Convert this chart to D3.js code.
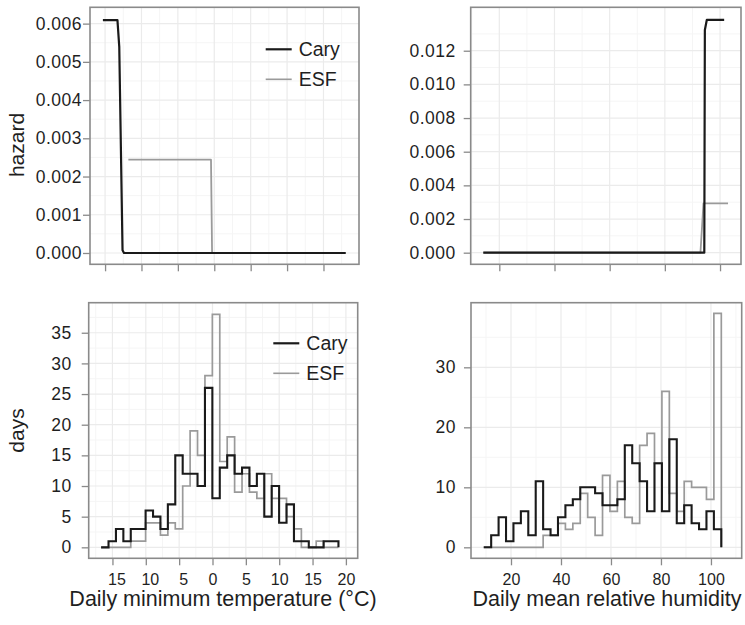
<!DOCTYPE html>
<html>
<head>
<meta charset="utf-8">
<script src="https://cdn.jsdelivr.net/npm/d3@7"></script>
<style>
  body { margin: 0; background: #fff; }
  text { font-family: "Liberation Sans", Arial, sans-serif; fill: #1f1f1f; }
</style>
</head>
<body>
<svg id="chart" width="745" height="625"></svg>
<script>
// tick values and labels (minus signs are missing in the original labels)
const tempTicks = [-15, -10, -5, 0, 5, 10, 15, 20]
const tempTickLabels = ['15', '10', '5', '0', '5', '10', '15', '20']
const rhTicks = [20, 40, 60, 80, 100]
const rhTickLabels = ['20', '40', '60', '80', '100']
const hazTempTicks = [0, 0.001, 0.002, 0.003, 0.004, 0.005, 0.006]
const hazTempLabels = ['0.000', '0.001', '0.002', '0.003', '0.004', '0.005', '0.006']
const hazRhTicks = [0, 0.002, 0.004, 0.006, 0.008, 0.010, 0.012]
const hazRhLabels = ['0.000', '0.002', '0.004', '0.006', '0.008', '0.010', '0.012']
const daysTempTicks = [0, 5, 10, 15, 20, 25, 30, 35]
const daysRhTicks = [0, 10, 20, 30]

// hazard curves, min temperature
const caryHazTempX = [-15.3, -13.3, -13.05, -12.6, -12.4, 18.05]
const caryHazTempY = [0.00609, 0.00609, 0.00539, 0.00007, 0, 0]
const esfHazTempX = [-11.8, -0.45, -0.3, 18.05]
const esfHazTempY = [0.00244, 0.00244, 0, 0]

// hazard curves, relative humidity
const caryHazRhX = [14.2, 94.3, 94.5, 95.2, 101.5]
const caryHazRhY = [0, 0, 0.01323, 0.01383, 0.01383]
const esfHazRhX = [14.2, 92.9, 94.0, 102.9]
const esfHazRhY = [0, 0, 0.00293, 0.00293]

// histograms (days per bin)
const tempBinStart = -16.7
const tempBinWidth = 1.112
const caryTempDays = [0, 1, 3, 1, 3, 3, 6, 5, 3, 7, 15, 12, 12, 10, 26, 8, 13, 15, 12, 13, 10, 12, 5, 10, 4, 7, 1, 1, 0, 0, 1, 1]
const esfTempDays = [0, 0, 0, 0, 1, 1, 4, 4, 2, 4, 3, 10, 19, 15, 28, 38, 14, 18, 9, 12, 9, 8, 12, 8, 8, 5, 3, 0, 0, 1, 0, 0]

const rhBinStart = 9.1
const rhBinWidth = 2.97
const caryRhDays = [0, 2, 5, 1, 4, 6, 2, 11, 3, 2, 5, 7, 8, 10, 10, 9, 7, 7, 8, 17, 14, 11, 6, 14, 6, 18, 4, 7, 4, 3, 6, 3]
const esfRhDays = [0, 0, 0, 0, 0, 0, 0, 0, 2, 2, 4, 3, 4, 9, 5, 2, 12, 6, 11, 5, 4, 17, 19, 14, 26, 9, 6, 11, 10, 10, 8, 39]

const BLACK = '#1a1a1a'
const GREY = '#9a9a9a'
const FRAME = '#8a8a8a'
const GRID = '#ebebeb'
const GRID_MINOR = '#f5f5f5'

const svg = d3.select('#chart')

// builds a panel: frame, grid, ticks and scales
const makePanel = (p) => {
  const x = d3.scaleLinear().domain(p.xDomain).range([p.left, p.right])
  const y = d3.scaleLinear().domain(p.yDomain).range([p.bottom, p.top])
  const g = svg.append('g')
  const id = 'clip' + p.name
  svg.append('clipPath').attr('id', id)
    .append('rect')
    .attr('x', p.left).attr('y', p.top)
    .attr('width', p.right - p.left).attr('height', p.bottom - p.top)

  const grid = g.append('g').attr('clip-path', `url(#${id})`)
  // minor grid at midpoints, and one step beyond each end
  const minors = (ticks) => {
    const step = ticks[1] - ticks[0]
    const out = [ticks[0] - step / 2]
    ticks.forEach((t) => out.push(t + step / 2))
    return out
  }
  minors(p.xTicks).forEach((v) => {
    grid.append('line').attr('x1', x(v)).attr('x2', x(v)).attr('y1', p.top).attr('y2', p.bottom)
      .attr('stroke', GRID_MINOR).attr('stroke-width', 1)
  })
  minors(p.yTicks).forEach((v) => {
    grid.append('line').attr('y1', y(v)).attr('y2', y(v)).attr('x1', p.left).attr('x2', p.right)
      .attr('stroke', GRID_MINOR).attr('stroke-width', 1)
  })
  p.xTicks.forEach((v) => {
    grid.append('line').attr('x1', x(v)).attr('x2', x(v)).attr('y1', p.top).attr('y2', p.bottom)
      .attr('stroke', GRID).attr('stroke-width', 1.2)
  })
  p.yTicks.forEach((v) => {
    grid.append('line').attr('y1', y(v)).attr('y2', y(v)).attr('x1', p.left).attr('x2', p.right)
      .attr('stroke', GRID).attr('stroke-width', 1.2)
  })

  // axes built with d3 axis generators
  const xAxis = d3.axisBottom(x).tickValues(p.xTicks).tickSize(7).tickPadding(8)
    .tickFormat((d, i) => p.xLabels ? p.xLabels[i] : '')
  const yAxis = d3.axisLeft(y).tickValues(p.yTicks).tickSize(7).tickPadding(p.yPad)
    .tickFormat((d, i) => p.yLabels[i])

  g.append('g').attr('transform', `translate(0,${p.bottom})`).call(xAxis)
    .call((a) => {
      a.select('.domain').remove()
      a.selectAll('.tick line').attr('stroke', FRAME).attr('stroke-width', 1.3)
      a.selectAll('.tick text').style('font-size', '16px').attr('fill', '#1f1f1f')
        .attr('font-family', null)
        .attr('dx', (d) => d < 0 ? 4 : 0)
    })
  g.append('g').attr('transform', `translate(${p.left},0)`).call(yAxis)
    .call((a) => {
      a.select('.domain').remove()
      a.selectAll('.tick line').attr('stroke', FRAME).attr('stroke-width', 1.3)
      a.selectAll('.tick text').style('font-size', '17.5px').attr('fill', '#1f1f1f')
        .attr('font-family', null)
        .style('letter-spacing', '0.5px')
    })

  const content = svg.append('g').attr('clip-path', `url(#${id})`)
  return { x, y, g, content, p }
}

const drawFrame = (panel) => {
  const p = panel.p
  svg.append('rect')
    .attr('x', p.left).attr('y', p.top)
    .attr('width', p.right - p.left).attr('height', p.bottom - p.top)
    .attr('fill', 'none').attr('stroke', FRAME).attr('stroke-width', 1.6)
}

const drawCurve = (panel, xs, ys, color, width) => {
  const line = d3.line().x((d) => panel.x(d[0])).y((d) => panel.y(d[1]))
  panel.content.append('path')
    .datum(xs.map((v, i) => [v, ys[i]]))
    .attr('d', line)
    .attr('fill', 'none')
    .attr('stroke', color)
    .attr('stroke-width', width)
    .attr('stroke-linejoin', 'round')
}

// step outline of a histogram, closed down to zero at the right end
const drawHist = (panel, start, width, counts, color, sw) => {
  const pts = []
  counts.forEach((c, i) => {
    pts.push([start + i * width, c])
    pts.push([start + (i + 1) * width, c])
  })
  pts.push([start + counts.length * width, 0])
  const line = d3.line().x((d) => panel.x(d[0])).y((d) => panel.y(d[1]))
  panel.content.append('path')
    .datum(pts)
    .attr('d', line)
    .attr('fill', 'none')
    .attr('stroke', color)
    .attr('stroke-width', sw)
    .attr('stroke-linejoin', 'miter')
}

const drawLegend = (x0, y0, gap) => {
  const items = [['Cary', BLACK, 2.2], ['ESF', GREY, 1.6]]
  items.forEach((it, i) => {
    const yy = y0 + i * gap
    svg.append('line').attr('x1', x0).attr('x2', x0 + 26).attr('y1', yy).attr('y2', yy)
      .attr('stroke', it[1]).attr('stroke-width', it[2])
    svg.append('text').attr('x', x0 + 33).attr('y', yy).attr('dy', '0.36em')
      .style('font-size', '19.5px').text(it[0])
  })
}

// top left: hazard vs min temperature
const tl = makePanel({
  name: 'tl', left: 90, right: 359, top: 7.3, bottom: 264.3,
  xDomain: [-17.07, 19.88], yDomain: [-0.000296, 0.006427],
  xTicks: tempTicks.slice(0, 7), yTicks: hazTempTicks, yLabels: hazTempLabels, yPad: 1
})
drawCurve(tl, esfHazTempX, esfHazTempY, GREY, 1.8)
drawCurve(tl, caryHazTempX, caryHazTempY, BLACK, 2.2)
drawFrame(tl)

// top right: hazard vs relative humidity
const tr = makePanel({
  name: 'tr', left: 470.7, right: 741, top: 7.3, bottom: 264.3,
  xDomain: [9.63, 107.6], yDomain: [-0.00069, 0.01458],
  xTicks: rhTicks, yTicks: hazRhTicks, yLabels: hazRhLabels, yPad: 8
})
drawCurve(tr, esfHazRhX, esfHazRhY, GREY, 1.8)
drawCurve(tr, caryHazRhX, caryHazRhY, BLACK, 2.2)
drawFrame(tr)

// bottom left: days vs min temperature
const bl = makePanel({
  name: 'bl', left: 88.7, right: 357.7, top: 302.7, bottom: 558.3,
  xDomain: [-18.56, 21.77], yDomain: [-1.79, 39.9],
  xTicks: tempTicks, xLabels: tempTickLabels,
  yTicks: daysTempTicks, yLabels: daysTempTicks.map(String), yPad: 10
})
drawHist(bl, tempBinStart, tempBinWidth, esfTempDays, GREY, 1.7)
drawHist(bl, tempBinStart, tempBinWidth, caryTempDays, BLACK, 2.1)
drawFrame(bl)

// bottom right: days vs relative humidity
const br = makePanel({
  name: 'br', left: 471, right: 741.7, top: 302.7, bottom: 558.3,
  xDomain: [4, 112.3], yDomain: [-1.83, 40.77],
  xTicks: rhTicks, xLabels: rhTickLabels,
  yTicks: daysRhTicks, yLabels: daysRhTicks.map(String), yPad: 8
})
drawHist(br, rhBinStart, rhBinWidth, esfRhDays, GREY, 1.7)
drawHist(br, rhBinStart, rhBinWidth, caryRhDays, BLACK, 2.1)
drawFrame(br)

drawLegend(265.7, 49.3, 30)
drawLegend(273.3, 343.3, 30)

// axis titles
svg.append('text').attr('transform', 'translate(24,145) rotate(-90)')
  .attr('text-anchor', 'middle').style('font-size', '21px').text('hazard')
svg.append('text').attr('transform', 'translate(24,430.5) rotate(-90)')
  .attr('text-anchor', 'middle').style('font-size', '21px').text('days')
svg.append('text').attr('x', 223).attr('y', 606)
  .attr('text-anchor', 'middle').style('font-size', '21.5px').text('Daily minimum temperature (°C)')
svg.append('text').attr('x', 607).attr('y', 606)
  .attr('text-anchor', 'middle').style('font-size', '21.5px').text('Daily mean relative humidity')
</script>
</body>
</html>
